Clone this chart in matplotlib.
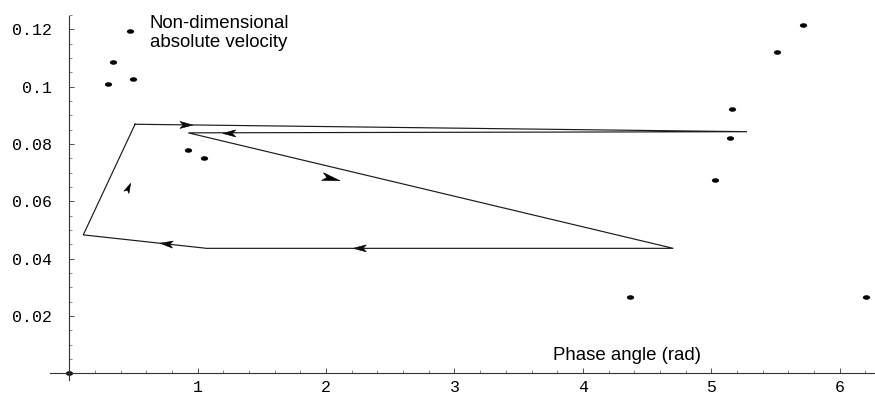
import numpy as np
import matplotlib
matplotlib.use("Agg")
import matplotlib.pyplot as plt
from matplotlib.path import Path
from matplotlib.markers import MarkerStyle
from matplotlib.transforms import Affine2D
from matplotlib.patches import Polygon

# Scattered samples (phase angle, non-dimensional absolute velocity)
dots_x = [0.0, 0.301, 0.340, 0.473, 0.498, 0.927, 1.051,
          4.367, 5.031, 5.146, 5.159, 5.509, 5.716, 6.202]
dots_y = [0.0, 0.1010, 0.1086, 0.1194, 0.1026, 0.0778, 0.0752,
          0.0267, 0.0676, 0.0822, 0.0923, 0.1120, 0.1216, 0.0267]

# Closed trajectory
path_x = [0.512, 5.278, 0.927, 4.704, 1.070, 0.109, 0.512]
path_y = [0.0869, 0.0843, 0.0839, 0.0436, 0.0436, 0.0483, 0.0869]

# Direction arrows: tip position and the trajectory segment they follow
arrow_tip_x = [0.963, 1.195, 2.108, 2.212, 0.706, 0.478]
arrow_tip_y = [0.0866, 0.0837, 0.0672, 0.0436, 0.0454, 0.0663]
arrow_seg = [0, 1, 2, 3, 4, 5]
arrow_len = [13, 13, 18, 13, 13, 10]
arrow_halfw = [3.5, 3.5, 4.0, 3.5, 3.5, 2.8]

x_ticks = [1, 2, 3, 4, 5, 6]
y_ticks = [0.02, 0.04, 0.06, 0.08, 0.10, 0.12]
y_tick_labels = ["0.02", "0.04", "0.06", "0.08", "0.1", "0.12"]

fig = plt.figure(figsize=(8.75, 3.94), dpi=100)
ax = fig.add_axes([0, 0, 1, 1])
ax.set_xlim(-0.5397, 6.2750)
ax.set_ylim(-0.00722, 0.13025)

for s in ("top", "right"):
    ax.spines[s].set_visible(False)
ax.spines["left"].set_position(("data", 0))
ax.spines["bottom"].set_position(("data", 0))
ax.spines["left"].set_bounds(-0.0023, 0.1247)
ax.spines["bottom"].set_bounds(-0.148, 6.275)
for s in ("left", "bottom"):
    ax.spines[s].set_linewidth(0.8)
    ax.spines[s].set_color("#333333")

mono = "Liberation Mono"
ax.set_xticks(x_ticks)
ax.set_xticklabels([str(t) for t in x_ticks], fontfamily=mono, fontsize=12)
ax.set_xticks([v for v in np.round(np.arange(0.2, 6.21, 0.2), 1) if abs(v - round(v)) > 1e-6], minor=True)
ax.set_yticks(y_ticks)
ax.set_yticklabels(y_tick_labels, fontfamily=mono, fontsize=12)
ax.set_yticks([v for v in np.round(np.arange(0.005, 0.1251, 0.005), 3)
               if abs(v * 50 - round(v * 50)) > 1e-6], minor=True)

ax.tick_params(axis="x", which="major", direction="in", length=3.3, width=0.6,
               color="#333333", pad=5.0)
ax.tick_params(axis="x", which="minor", direction="in", length=2.0, width=0.5,
               color="#555555")
ax.tick_params(axis="y", which="major", direction="in", length=3.3, width=0.6,
               color="#333333", pad=12.5)
ax.tick_params(axis="y", which="minor", direction="in", length=2.0, width=0.5,
               color="#555555")

# Trajectory
ax.plot(path_x, path_y, color="#1a1a1a", lw=0.85, solid_joinstyle="miter")

# Elliptical dots
ell = Path.unit_circle().transformed(Affine2D().scale(1.6, 1.0))
ax.plot(dots_x, dots_y, linestyle="none", marker=MarkerStyle(ell),
        markersize=5.2, color="black", markeredgewidth=0)

# Arrowheads built in pixel space and mapped back to data
fig.canvas.draw()
to_px = ax.transData
to_data = ax.transData.inverted()
for tx, ty, seg, L, W in zip(arrow_tip_x, arrow_tip_y, arrow_seg, arrow_len, arrow_halfw):
    p0 = to_px.transform((path_x[seg], path_y[seg]))
    p1 = to_px.transform((path_x[seg + 1], path_y[seg + 1]))
    u = (p1 - p0) / np.hypot(*(p1 - p0))
    n = np.array([-u[1], u[0]])
    tip = to_px.transform((tx, ty))
    pts = np.array([tip,
                    tip - L * u + W * n,
                    tip - 0.75 * L * u,
                    tip - L * u - W * n])
    ax.add_patch(Polygon(to_data.transform(pts), closed=True,
                         facecolor="black", edgecolor="black", lw=0.4))

sans = "Liberation Sans"
ax.text(0.6285, 0.1250, "Non-dimensional\nabsolute velocity", fontfamily=sans,
        fontsize=13.4, va="top", ha="left", linespacing=1.12)
ax.text(3.769, 0.00447, "Phase angle (rad)", fontfamily=sans,
        fontsize=13.4, va="baseline", ha="left")

fig.savefig("out.png", dpi=100)
